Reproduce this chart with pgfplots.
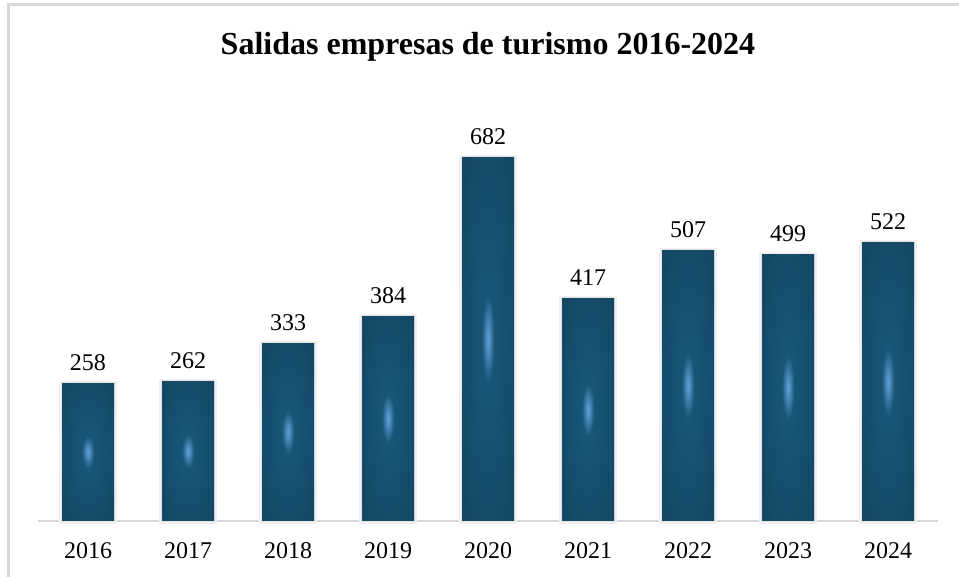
\documentclass[border=0pt]{standalone}
\usepackage{pgfplots}
\pgfplotsset{compat=1.18}
\usepackage{fontspec}
\setmainfont{Liberation Serif}
\definecolor{bdark}{HTML}{113F58}
\definecolor{bbase}{HTML}{154C6A}
\definecolor{bmid}{HTML}{185576}
\definecolor{bhl}{HTML}{5E9FD8}
\definecolor{framegray}{HTML}{D9D9D9}
\pgfdeclareradialshading{barshade}{\pgfpoint{0bp}{0bp}}{%
  color(0bp)=(bhl); color(1.5bp)=(bhl!80!bmid); color(6bp)=(bmid); color(25bp)=(bbase); color(50bp)=(bdark); color(100bp)=(bdark)}
\pgfplotsset{onebar/.style={ybar, bar width=26pt, bar shift=0pt, draw=none, shading=barshade,
  preaction={draw=black!6, line width=2.6pt}, preaction={draw=black!10, line width=1.2pt}}}
\begin{document}
\begin{tikzpicture}
\path[use as bounding box] (-19pt,-28pt) rectangle (460.5pt,260.5pt);
\draw[framegray, line width=1.2pt] (-14.75pt,-30pt) -- (-14.75pt,258.25pt) -- (462pt,258.25pt);
\begin{axis}[
  scale only axis,
  width=450pt, height=200pt,
  xmin=-0.5, xmax=8.5,
  ymin=0, ymax=750,
  axis x line*=bottom,
  axis y line=none,
  axis line style={draw=framegray, line width=1pt},
  xtick={0,1,2,3,4,5,6,7,8},
  xticklabels={2016,2017,2018,2019,2020,2021,2022,2023,2024},
  major tick length=0pt,
  xticklabel style={font=\fontsize{12}{14}\selectfont, inner sep=0pt, yshift=-10.5pt, anchor=north},
  ytick=\empty,
  /pgf/number format/assume math mode=true,
  clip=false,
  title={\textbf{Salidas empresas de turismo 2016-2024}},
  title style={font=\fontsize{16}{19}\selectfont, at={(0.5,1)}, anchor=base, yshift=27pt, inner sep=0pt},
  nodes near coords,
  every node near coord/.append style={font=\fontsize{12}{14}\selectfont, inner sep=0pt, anchor=base, yshift=6.5pt, text=black},
]
\addplot[onebar] coordinates {(0,258)};
\addplot[onebar] coordinates {(1,262)};
\addplot[onebar] coordinates {(2,333)};
\addplot[onebar] coordinates {(3,384)};
\addplot[onebar] coordinates {(4,682)};
\addplot[onebar] coordinates {(5,417)};
\addplot[onebar] coordinates {(6,507)};
\addplot[onebar] coordinates {(7,499)};
\addplot[onebar] coordinates {(8,522)};
\end{axis}
\end{tikzpicture}
\end{document}
